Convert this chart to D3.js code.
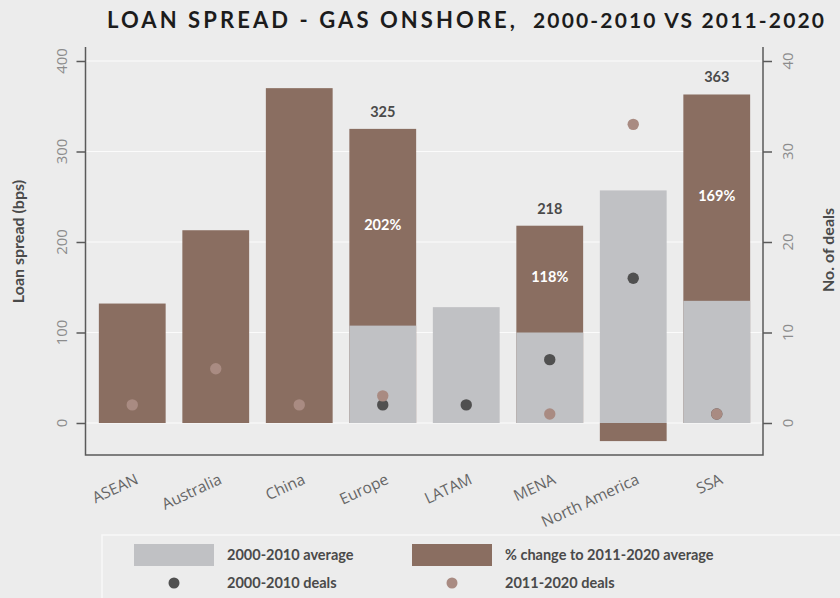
<!DOCTYPE html>
<html>
<head>
<meta charset="utf-8">
<script src="https://cdn.jsdelivr.net/npm/d3@7"></script>
<style>
  html, body { margin: 0; padding: 0; background: #ececec; }
  svg { display: block; }
</style>
</head>
<body>
<svg id="chart" width="840" height="598"></svg>
<script>
// Regions on the x axis
const categories = ["ASEAN", "Australia", "China", "Europe", "LATAM", "MENA", "North America", "SSA"];
// Average loan spread (bps), 2000-2010 and 2011-2020
const avg2000 = [null, null, null, 107.6, 128, 100, 257, 135];
const avg2011 = [132, 213, 370, 325, null, 218, -20, 363];
// Number of deals per period
const deals2000 = [null, null, null, 2, 2, 7, 16, 1];
const deals2011 = [2, 6, 2, 3, null, 1, 33, 1];
// Axis ticks
const spreadTicks = [0, 100, 200, 300, 400];
const dealTicks = [0, 10, 20, 30, 40];

const colors = {
  early: "#c0c1c4",
  change: "#8a6e61",
  dotEarly: "#505050",
  dotLate: "#a98b82",
  axis: "#5a5a5a",
  tickText: "#8c8c8c",
  label: "#4a4a4a"
};
const boldFont = "Lato, 'Noto Sans', sans-serif";
const thinFont = "'Open Sans', 'Noto Sans', sans-serif";

const svg = d3.select("#chart");
const plotL = 85.5, plotR = 763, plotT = 47, plotB = 455;

const x = d3.scaleBand().domain(categories).range([86, 763]).paddingInner(0.2).paddingOuter(0.154);
const y = d3.scaleLinear().domain([0, 400]).range([423, 61]);
const yR = d3.scaleLinear().domain([0, 40]).range([423, 61]);

const rows = categories.map((c, i) => ({
  cat: c, a0: avg2000[i], a1: avg2011[i], d0: deals2000[i], d1: deals2011[i]
}));

// Title
svg.append("text")
  .attr("x", 107).attr("y", 28)
  .attr("textLength", 408).attr("lengthAdjust", "spacing")
  .style("font-family", boldFont).style("font-weight", 700).style("font-size", "22px")
  .style("fill", "#1c1c1c")
  .text("LOAN SPREAD - GAS ONSHORE,");
svg.append("text")
  .attr("x", 533).attr("y", 28)
  .attr("textLength", 291).attr("lengthAdjust", "spacing")
  .style("font-family", boldFont).style("font-weight", 700).style("font-size", "21px")
  .style("fill", "#1c1c1c")
  .text("2000-2010 VS 2011-2020");

// Grid lines
svg.append("g").selectAll("line").data(spreadTicks).join("line")
  .attr("x1", plotL).attr("x2", plotR)
  .attr("y1", d => y(d)).attr("y2", d => y(d))
  .attr("stroke", "#fbfbfb").attr("stroke-width", 1.2);

// 2011-2020 average bars, from zero
svg.append("g").selectAll("rect").data(rows.filter(r => r.a1 != null)).join("rect")
  .attr("x", d => x(d.cat)).attr("width", x.bandwidth())
  .attr("y", d => Math.min(y(d.a1), y(0)))
  .attr("height", d => Math.abs(y(d.a1) - y(0)))
  .attr("fill", colors.change);

// 2000-2010 average bars drawn over them
svg.append("g").selectAll("rect").data(rows.filter(r => r.a0 != null)).join("rect")
  .attr("x", d => x(d.cat)).attr("width", x.bandwidth())
  .attr("y", d => y(d.a0))
  .attr("height", d => y(0) - y(d.a0))
  .attr("fill", colors.early);

// Labels where the spread rose: new average above, percent change inside
const rising = rows.filter(r => r.a0 != null && r.a1 != null && r.a1 > r.a0);
svg.append("g").selectAll("text").data(rising).join("text")
  .attr("x", d => x(d.cat) + x.bandwidth() / 2)
  .attr("y", d => y(d.a1) - 12)
  .attr("text-anchor", "middle")
  .style("font-family", boldFont).style("font-weight", 700).style("font-size", "14.5px")
  .style("fill", colors.label)
  .text(d => d3.format("d")(d.a1));
svg.append("g").selectAll("text").data(rising).join("text")
  .attr("x", d => x(d.cat) + x.bandwidth() / 2)
  .attr("y", d => (y(d.a0) + y(d.a1)) / 2 - 2)
  .attr("dy", "0.35em")
  .attr("text-anchor", "middle")
  .style("font-family", boldFont).style("font-weight", 700).style("font-size", "14.5px")
  .style("fill", "#ffffff")
  .text(d => Math.round((d.a1 / d.a0 - 1) * 100) + "%");

// Deal counts on the right-hand scale
svg.append("g").selectAll("circle").data(rows.filter(r => r.d0 != null)).join("circle")
  .attr("cx", d => x(d.cat) + x.bandwidth() / 2)
  .attr("cy", d => yR(d.d0))
  .attr("r", 5.7)
  .attr("fill", colors.dotEarly);
svg.append("g").selectAll("circle").data(rows.filter(r => r.d1 != null)).join("circle")
  .attr("cx", d => x(d.cat) + x.bandwidth() / 2)
  .attr("cy", d => yR(d.d1))
  .attr("r", 5.7)
  .attr("fill", colors.dotLate);

// Frame: left, bottom and right axis lines
svg.append("path")
  .attr("d", `M${plotL},${plotT}V${plotB}H${plotR}V${plotT}`)
  .attr("stroke", colors.axis).attr("stroke-width", 1.5).attr("fill", "none");

// Left axis ticks (labels drawn separately, turned upright)
const axL = svg.append("g").attr("transform", `translate(${plotL},0)`)
  .call(d3.axisLeft(y).tickValues(spreadTicks).tickSize(9).tickFormat(""));
axL.select(".domain").remove();
axL.selectAll(".tick line").attr("stroke", colors.axis).attr("stroke-width", 1.5);
svg.append("g").selectAll("text").data(spreadTicks).join("text")
  .attr("transform", d => `translate(${plotL - 23.5},${y(d)}) rotate(-90)`)
  .attr("dy", "0.35em")
  .attr("text-anchor", "middle")
  .style("font-family", thinFont).style("font-size", "15px").style("fill", colors.tickText)
  .text(d => d);

// Right axis
const axR = svg.append("g").attr("transform", `translate(${plotR},0)`)
  .call(d3.axisRight(yR).tickValues(dealTicks).tickSize(9).tickFormat(""));
axR.select(".domain").remove();
axR.selectAll(".tick line").attr("stroke", colors.axis).attr("stroke-width", 1.5);
svg.append("g").selectAll("text").data(dealTicks).join("text")
  .attr("transform", d => `translate(${plotR + 24.5},${yR(d)}) rotate(-90)`)
  .attr("dy", "0.35em")
  .attr("text-anchor", "middle")
  .style("font-family", thinFont).style("font-size", "15px").style("fill", colors.tickText)
  .text(d => d);

// Axis titles
svg.append("text")
  .attr("transform", `translate(24,241.5) rotate(-90)`)
  .attr("text-anchor", "middle")
  .style("font-family", boldFont).style("font-weight", 700).style("font-size", "16px")
  .style("fill", colors.label)
  .text("Loan spread (bps)");
svg.append("text")
  .attr("transform", `translate(834,250) rotate(-90)`)
  .attr("text-anchor", "middle")
  .style("font-family", boldFont).style("font-weight", 700).style("font-size", "16px")
  .style("fill", colors.label)
  .text("No. of deals");

// Category labels, slanted
svg.append("g").selectAll("text").data(categories).join("text")
  .attr("transform", d => `translate(${x(d) + x.bandwidth() / 2 + 7},483) rotate(-25)`)
  .attr("text-anchor", "end")
  .style("font-family", thinFont).style("font-size", "15.5px").style("fill", "#666")
  .text(d => d);

// Legend
const lg = svg.append("g");
lg.append("rect").attr("x", 102).attr("y", 535).attr("width", 750).attr("height", 70)
  .attr("fill", "none").attr("stroke", "#f8f8f8").attr("stroke-width", 1.5);
const legendItems = [
  { kind: "bar", color: colors.early, text: "2000-2010 average", sx: 134, tx: 227, cy: 555 },
  { kind: "bar", color: colors.change, text: "% change to 2011-2020 average", sx: 412, tx: 505, cy: 555 },
  { kind: "dot", color: colors.dotEarly, text: "2000-2010 deals", sx: 134, tx: 227, cy: 583 },
  { kind: "dot", color: colors.dotLate, text: "2011-2020 deals", sx: 412, tx: 505, cy: 583 }
];
legendItems.forEach(it => {
  if (it.kind === "bar") {
    lg.append("rect").attr("x", it.sx).attr("y", it.cy - 11).attr("width", 80).attr("height", 22).attr("fill", it.color);
  } else {
    lg.append("circle").attr("cx", it.sx + 40).attr("cy", it.cy).attr("r", 5.5).attr("fill", it.color);
  }
  lg.append("text").attr("x", it.tx).attr("y", it.cy).attr("dy", "0.35em")
    .style("font-family", boldFont).style("font-weight", 700).style("font-size", "14.5px")
    .style("fill", colors.label)
    .text(it.text);
});
</script>
</body>
</html>
